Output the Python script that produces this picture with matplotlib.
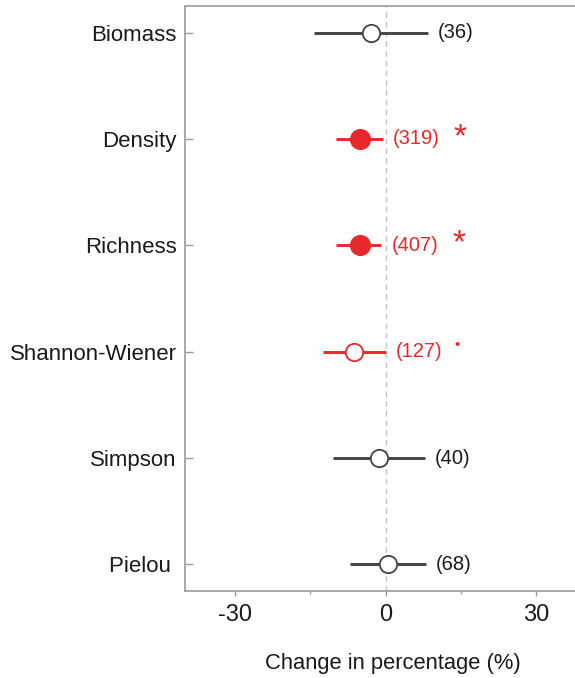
import matplotlib
matplotlib.use("Agg")
import matplotlib.pyplot as plt
from matplotlib.ticker import FixedLocator

plt.rcParams['font.family'] = ['Liberation Sans', 'DejaVu Sans']

categories = ['Biomass', 'Density', 'Richness', 'Shannon-Wiener', 'Simpson', 'Pielou ']
means = [-2.8, -5.1, -5.1, -6.2, -1.3, 0.5]
ci_low = [-14.2, -9.8, -9.8, -12.5, -10.4, -7.0]
ci_high = [8.4, -0.5, -0.8, 0.0, 7.9, 8.1]
counts = ['(36)', '(319)', '(407)', '(127)', '(40)', '(68)']
significance = ['', '*', '*', '•', '', '']
highlighted = [False, True, True, True, False, False]
filled = [False, True, True, False, False, False]

RED = '#e8282b'
GREY = '#444444'
TEXT = '#1a1a1a'
SPINE = '#9a9a9a'

fig = plt.figure(figsize=(5.75, 6.78), dpi=100)
ax = fig.add_axes([185/575, 1-591/678, 401/575, 585/678])

n = len(categories)
ys = list(range(n, 0, -1))

ax.axvline(0, color='#c4c4c4', lw=1.0, ls=(0, (4, 3)), zorder=1)

for i, y in enumerate(ys):
    col = RED if highlighted[i] else GREY
    tcol = RED if highlighted[i] else TEXT
    ax.plot([ci_low[i], ci_high[i]], [y, y], color=col, lw=2.1, solid_capstyle='butt', zorder=2)
    if filled[i]:
        ax.plot(means[i], y, 'o', ms=14, mfc=col, mec=col, mew=1.2, zorder=3)
    else:
        ax.plot(means[i], y, 'o', ms=12.5, mfc='white', mec=col, mew=1.3, zorder=3)
    t = ax.text(ci_high[i] + 2.0, y, counts[i], color=tcol, fontsize=14.5,
                ha='left', va='center')
    if significance[i]:
        if significance[i] == '*':
            ax.annotate('*', xy=(1, 0.5), xycoords=t, xytext=(10, 1), textcoords='offset points',
                        ha='left', va='center', color=col, fontsize=24)
        else:
            ax.annotate('•', xy=(1, 0.5), xycoords=t, xytext=(9, 5), textcoords='offset points',
                        ha='left', va='center', color=col, fontsize=11)

ax.set_xlim(-40, 40)
ax.set_ylim(0.75, n + 0.25)
ax.set_yticks(ys)
ax.set_yticklabels(categories, fontsize=16, color=TEXT)
ax.set_xticks([-30, 0, 30])
ax.set_xticklabels(['-30', '0', '30'], fontsize=17, color=TEXT)
ax.xaxis.set_minor_locator(FixedLocator([-15, 15]))
ax.set_xlabel('Change in percentage (%)', fontsize=15.8, color=TEXT)
ax.xaxis.set_label_coords((393 - 185) / 401, -(663 - 591) / 585)
ax.xaxis.label.set_va('center')

for s in ax.spines.values():
    s.set_color(SPINE)
    s.set_linewidth(1.2)
ax.tick_params(axis='both', which='both', color=SPINE, width=1.0)
ax.tick_params(axis='y', direction='in', length=6, pad=6)
ax.tick_params(axis='x', which='major', direction='out', length=3.5, pad=6)
ax.tick_params(axis='x', which='minor', direction='out', length=2.5)

fig.savefig('out.png', dpi=100)
